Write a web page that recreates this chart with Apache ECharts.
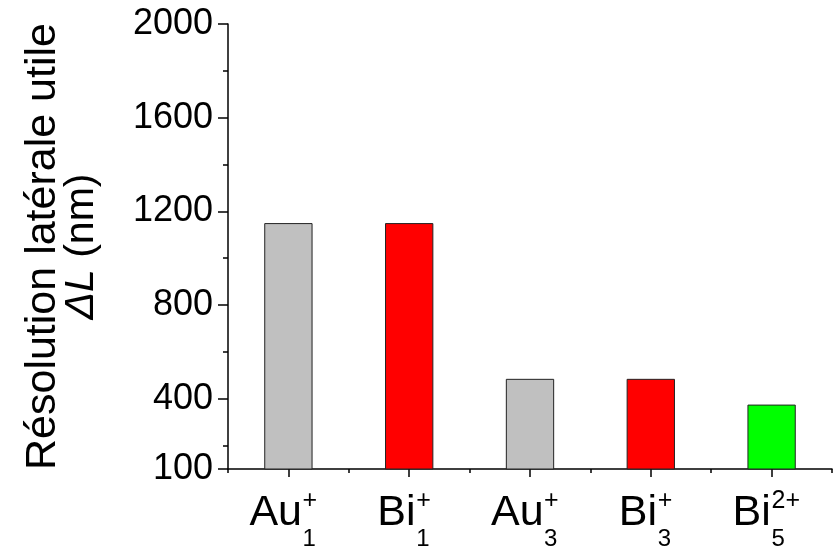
<!DOCTYPE html>
<html>
<head>
<meta charset="utf-8">
<script src="https://cdn.jsdelivr.net/npm/echarts@6/dist/echarts.min.js"></script>
<style>
  html, body { margin: 0; padding: 0; background: #fff; }
  #chart { width: 836px; height: 546px; }
</style>
</head>
<body>
<div id="chart"></div>
<script>
// Ion species (element, cluster size, charge) and their useful lateral resolution
const elements = ['Au', 'Bi', 'Au', 'Bi', 'Bi'];
const clusterSizes = ['1', '1', '3', '3', '5'];
const charges = ['+', '+', '+', '+', '2+'];
const resolutionNm = [1150, 1150, 485, 485, 375];
const barColors = ['#c0c0c0', '#ff0000', '#c0c0c0', '#ff0000', '#00ff00'];
const yMajorTicks = [100, 400, 800, 1200, 1600, 2000];
const yMinorTicks = [200, 600, 1000, 1400, 1800];

const FONT = '"Liberation Sans", Arial, sans-serif';
const BASE_SIZE = 43, SUP_SIZE = 25, SUB_SIZE = 24;

const measureCtx = document.createElement('canvas').getContext('2d');
function textWidth(text, size) {
  measureCtx.font = size + 'px "Liberation Sans"';
  return measureCtx.measureText(text).width;
}

const categoryKeys = elements.map((e, i) => e + clusterSizes[i] + charges[i]);

// Rich styles: element symbol, then the charge stacked above the cluster size
const labelRich = {};
elements.forEach((e, i) => {
  const wb = Math.ceil(textWidth(e, BASE_SIZE));
  const ws = Math.ceil(Math.max(textWidth(charges[i], SUP_SIZE), textWidth(clusterSizes[i], SUB_SIZE)));
  labelRich['b' + i] = { fontSize: BASE_SIZE, fontFamily: FONT, color: '#000', lineHeight: 36, width: wb, align: 'left', verticalAlign: 'middle' };
  labelRich['s' + i] = { fontSize: SUP_SIZE, fontFamily: FONT, color: '#000', lineHeight: 36, width: ws, align: 'left', verticalAlign: 'middle', padding: [0, 0, 24, 0] };
  labelRich['g' + i] = { fontSize: 10, fontFamily: FONT, lineHeight: 16, width: wb, align: 'left', verticalAlign: 'middle' };
  labelRich['u' + i] = { fontSize: SUB_SIZE, fontFamily: FONT, color: '#000', lineHeight: 16, width: ws, align: 'left', verticalAlign: 'middle' };
});

const chart = echarts.init(document.getElementById('chart'), null, { renderer: 'canvas' });

chart.setOption({
  animation: false,
  backgroundColor: '#fff',
  grid: { left: 228, right: 4, top: 24, bottom: 77, containLabel: false, outerBoundsMode: 'none' },
  xAxis: [
    {
      type: 'category',
      data: categoryKeys,
      position: 'bottom',
      axisLine: { show: true, lineStyle: { color: '#000', width: 1.5 } },
      axisTick: { show: true, alignWithLabel: true, length: 8, lineStyle: { color: '#000', width: 1.5 } },
      axisLabel: {
        show: true,
        margin: 26,
        padding: [0, 10, 0, 0],
        formatter: (v, i) => '{b' + i + '|' + elements[i] + '}{s' + i + '|' + charges[i] + '}\n{g' + i + '| }{u' + i + '|' + clusterSizes[i] + '}',
        rich: labelRich
      },
      splitLine: { show: false }
    },
    {
      type: 'category',
      data: categoryKeys,
      position: 'bottom',
      axisLine: { show: false },
      axisTick: { show: true, length: 4, lineStyle: { color: '#000', width: 1.5 } },
      axisLabel: { show: false },
      splitLine: { show: false }
    }
  ],
  yAxis: [
    {
      type: 'value',
      min: 100,
      max: 2000,
      position: 'left',
      name: '{t|Résolution latérale utile}\n{i|ΔL}{n| (nm)}',
      nameLocation: 'middle',
      nameRotate: 90,
      nameGap: 127,
      nameTextStyle: {
        fontFamily: FONT,
        fontSize: 42,
        color: '#000',
        rich: {
          t: { fontFamily: FONT, fontSize: 43, color: '#000', lineHeight: 40, align: 'center' },
          i: { fontFamily: FONT, fontSize: 41, color: '#000', lineHeight: 38, align: 'center', fontStyle: 'italic' },
          n: { fontFamily: FONT, fontSize: 41, color: '#000', lineHeight: 38, align: 'center' }
        }
      },
      axisLine: { show: true, lineStyle: { color: '#000', width: 1.5 } },
      axisTick: { show: true, length: 10, customValues: yMajorTicks, lineStyle: { color: '#000', width: 1.5 } },
      axisLabel: {
        show: true,
        customValues: yMajorTicks,
        margin: 15,
        fontFamily: FONT,
        fontSize: 36,
        color: '#000',
        formatter: (v) => String(v)
      },
      splitLine: { show: false }
    },
    {
      type: 'value',
      min: 100,
      max: 2000,
      position: 'left',
      axisLine: { show: false },
      axisTick: { show: true, length: 5, customValues: yMinorTicks, lineStyle: { color: '#000', width: 1.5 } },
      axisLabel: { show: false },
      splitLine: { show: false }
    }
  ],
  series: [
    {
      type: 'bar',
      xAxisIndex: 0,
      yAxisIndex: 0,
      barWidth: '40%',
      data: resolutionNm.map((v, i) => ({
        value: v,
        itemStyle: { color: barColors[i], borderColor: '#222', borderWidth: 1 }
      }))
    }
  ]
});
</script>
</body>
</html>
